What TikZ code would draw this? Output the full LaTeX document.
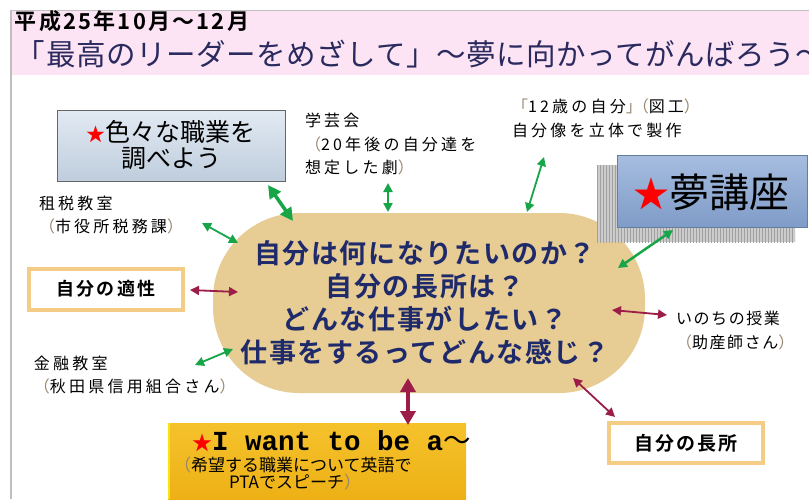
\documentclass[tikz,border=0pt]{standalone}
\usepackage{fontspec}
\newfontfamily\jp{Noto Sans CJK JP}[BoldFont={Noto Sans CJK JP Bold}]
\newfontfamily\jpw{Noto Sans CJK JP}[LetterSpace=20]
\newfontfamily\jpc{Noto Sans CJK JP}[LetterSpace=6,BoldFont={Noto Sans CJK JP Bold}]
\newfontfamily\monob{Liberation Mono}
\usetikzlibrary{arrows.meta,patterns}
\definecolor{pinkbg}{HTML}{FCE4F5}
\definecolor{navy}{HTML}{1F2A6B}
\definecolor{titlec}{HTML}{2A2A5E}
\definecolor{tanc}{HTML}{E7CC94}
\definecolor{grn}{HTML}{17A548}
\definecolor{crim}{HTML}{9C1E48}
\definecolor{orng}{HTML}{F5CC86}
\definecolor{paren}{HTML}{9A8670}
\definecolor{irotop}{HTML}{E2EAF3}
\definecolor{irobot}{HTML}{BFCDDC}
\definecolor{yumetop}{HTML}{A6BDDF}
\definecolor{yumebot}{HTML}{7F9CC8}
\definecolor{goldtop}{HTML}{F5C22C}
\definecolor{goldbot}{HTML}{ECAE12}
\tikzset{
  ann/.style={anchor=north west, align=left, font=\jpw\fontsize{16}{23.5}\selectfont},
  gthin/.style={draw=grn, line width=1.8pt, {Triangle[length=9pt,width=9pt]}-{Triangle[length=9pt,width=9pt]}},
  gthick/.style={draw=grn, line width=3.5pt, {Triangle[length=13pt,width=13pt]}-{Triangle[length=13pt,width=13pt]}},
  rthin/.style={draw=crim, line width=1.8pt, {Triangle[length=9pt,width=9pt]}-{Triangle[length=9pt,width=9pt]}},
  rthick/.style={draw=crim, line width=4pt, {Triangle[length=14pt,width=15pt]}-{Triangle[length=14pt,width=15pt]}},
  obox/.style={draw=orng, line width=4pt, fill=white, minimum width=154pt, minimum height=41pt},
}
\newcommand{\pp}[1]{{\color{paren}#1}}
\begin{document}
\begin{tikzpicture}[x=1pt,y=-1pt, every node/.style={inner sep=0pt, outer sep=0pt}]
\useasboundingbox (0,0) rectangle (809,499);
\fill[white] (0,0) rectangle (809,499);
\fill[pinkbg] (12,11) rectangle (809,75);
\draw[gray!50, line width=0.8pt] (11,10.5) -- (809,10.5);
\draw[gray!50, line width=2pt] (11,10) -- (11,499);

% header
\node[anchor=west, font=\jp\bfseries\fontsize{22}{22}\selectfont\addfontfeature{LetterSpace=10}] (hdr) at (15,21) {平成25年10月～12月};
\node[anchor=west, text=titlec, font=\jp\fontsize{29.5}{30}\selectfont\addfontfeature{LetterSpace=2}] (title) at (16,54) {「最高のリーダーをめざして」～夢に向かってがんばろう～};

% centre
\node[fill=tanc, rounded corners=86pt, minimum width=432pt, minimum height=180pt] (ctr) at (429,303) {};
\node[text=navy, align=center, font=\jpc\bfseries\fontsize{27}{33}\selectfont] (q) at (425,303)
  {自分は何になりたいのか？\\自分の長所は？\\どんな仕事がしたい？\\仕事をするってどんな感じ？};

% boxes
\node[draw=black!60, line width=1pt, top color=irotop, bottom color=irobot,
      minimum width=228pt, minimum height=71pt] (iro) at (171,145.5) {};
\node[align=center, font=\jp\fontsize{25}{26}\selectfont] (irot) at (171,145)
  {{\color{red}\fontsize{19}{19}\selectfont ★}色々な職業を\\調べよう};

\fill[gray!40] (597,165) rectangle (795,242);
\fill[pattern=vertical lines, pattern color=gray!75] (597,165) rectangle (795,242);
\node[draw=yumebot!80!black, line width=1pt, top color=yumetop, bottom color=yumebot,
      minimum width=190pt, minimum height=72pt] (yume) at (712,191) {};
\node[font=\jp\fontsize{40}{40}\selectfont] (yumet) at (711,192)
  {{\color{red}\fontsize{36}{36}\selectfont ★}夢講座};

\node[obox] (tek) at (106,289.5) {};
\node[font=\jp\bfseries\fontsize{18}{18}\selectfont\addfontfeature{LetterSpace=12}] (tekt) at (106,288.5) {自分の適性};

\node[obox, minimum height=40pt] (cho) at (686,443) {};
\node[font=\jp\bfseries\fontsize{19}{19}\selectfont\addfontfeature{LetterSpace=10}] (chot) at (686,443) {自分の長所};

\node[top color=goldtop, bottom color=goldbot, minimum width=298pt, minimum height=87pt] (iw) at (317,466.5) {};
\draw[yellow!70!goldtop, line width=2pt] (169,423) -- (169,499);
\node[anchor=base west] (iw1) at (192,450)
  {{\jp\color{red}\fontsize{20}{20}\selectfont ★}{\monob\bfseries\fontsize{27.5}{28}\selectfont I want to be a}{\jp\fontsize{27.5}{28}\selectfont ～}};
\node[anchor=base west, font=\jp\fontsize{17}{17}\selectfont] (iw2) at (174,471) {\pp{（}希望する職業について英語で};
\node[anchor=base west, font=\jp\fontsize{17}{17}\selectfont] (iw3) at (229,488) {PTAでスピーチ\pp{）}};

% annotations
\node[ann] (gak) at (305,113) {学芸会\\\pp{（}20年後の自分達を\\想定した劇\pp{）}};
\node[ann] (sai) at (512,99) {\pp{「}12歳の自分\pp{」}\hspace{-9pt}\pp{（}図工\pp{）}\\自分像を立体で製作};
\node[ann] (sozei) at (39,196) {租税教室\\\pp{（}市役所税務課\pp{）}};
\node[ann] (kin) at (34,356) {金融教室\\\pp{（}秋田県信用組合さん\pp{）}};
\node[ann, font=\jpw\fontsize{16}{24}\selectfont\addfontfeature{LetterSpace=10}] (ino) at (676,311) {いのちの授業\\\pp{（}助産師さん\pp{）}};

% connector ends
\coordinate (a1) at (268,185); \coordinate (b1) at (293,221);
\coordinate (a2) at (202,223); \coordinate (b2) at (238,243);
\coordinate (a3) at (388,183); \coordinate (b3) at (388,212);
\coordinate (a4) at (544,157); \coordinate (b4) at (527,212);
\coordinate (a5) at (673,230); \coordinate (b5) at (618,268);
\coordinate (a6) at (195,365); \coordinate (b6) at (233,349);
\coordinate (a7) at (190,290); \coordinate (b7) at (238,292);
\coordinate (a8) at (612,310); \coordinate (b8) at (667,315);
\coordinate (a9) at (573,378); \coordinate (b9) at (615,417);
\coordinate (a10) at (408,378); \coordinate (b10) at (408,425);

\draw[gthick] (a1) -- (b1);
\draw[gthin] (a2) -- (b2);
\draw[gthin, line width=2.5pt] (a3) -- (b3);
\draw[gthin] (a4) -- (b4);
\draw[gthin, line width=2.5pt] (a5) -- (b5);
\draw[gthin] (a6) -- (b6);
\draw[rthin] (a7) -- (b7);
\draw[rthin] (a8) -- (b8);
\draw[rthin] (a9) -- (b9);
\draw[rthick] (a10) -- (b10);
\end{tikzpicture}
\end{document}
